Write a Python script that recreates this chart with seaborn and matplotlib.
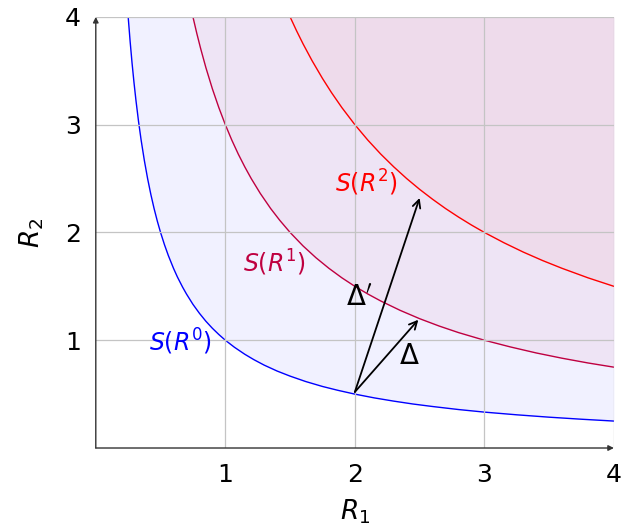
import matplotlib
matplotlib.use("Agg")
import matplotlib.pyplot as plt
import seaborn as sns
import pandas as pd

# Curve points
r0_x = [0.25, 0.265, 0.28, 0.295, 0.31, 0.33, 0.35, 0.375, 0.4, 0.425, 0.45, 0.475, 0.5, 0.53, 0.56, 0.6, 0.63, 0.67, 0.7, 0.75, 0.8, 0.85, 0.9, 0.95, 1.0,
        1.07, 1.15, 1.22, 1.3, 1.4, 1.5, 1.62, 1.75, 1.87, 2.0, 2.15, 2.3, 2.45, 2.6, 2.8, 3.0, 3.25, 3.5, 3.75, 4.0]
r0_y = [4.000, 3.774, 3.571, 3.390, 3.226, 3.030, 2.857, 2.667, 2.500, 2.353, 2.222, 2.105, 2.000, 1.887, 1.786, 1.667, 1.587, 1.493, 1.429, 1.333,
        1.250, 1.176, 1.111, 1.053, 1.000, 0.935, 0.870, 0.820, 0.769, 0.714, 0.667, 0.617, 0.571, 0.535, 0.500, 0.465, 0.435, 0.408, 0.385, 0.357,
        0.333, 0.308, 0.286, 0.267, 0.250]
r1_x = [0.75, 0.78, 0.81, 0.85, 0.9, 0.95, 1.0, 1.05, 1.1, 1.15, 1.2, 1.27, 1.35, 1.42, 1.5, 1.6, 1.7, 1.8, 1.9, 2.0, 2.1, 2.2, 2.35, 2.5, 2.65, 2.8,
        3.0, 3.2, 3.4, 3.6, 3.8, 4.0]
r1_y = [4.000, 3.846, 3.704, 3.529, 3.333, 3.158, 3.000, 2.857, 2.727, 2.609, 2.500, 2.362, 2.222, 2.113, 2.000, 1.875, 1.765, 1.667, 1.579, 1.500,
        1.429, 1.364, 1.277, 1.200, 1.132, 1.071, 1.000, 0.938, 0.882, 0.833, 0.789, 0.750]
r2_x = [1.5, 1.55, 1.6, 1.67, 1.75, 1.82, 1.9, 2.0, 2.1, 2.2, 2.3, 2.4, 2.5, 2.6, 2.7, 2.8, 2.9, 3.0, 3.15, 3.3, 3.45, 3.6, 3.8, 4.0]
r2_y = [4.000, 3.871, 3.750, 3.593, 3.429, 3.297, 3.158, 3.000, 2.857, 2.727, 2.609, 2.500, 2.400, 2.308, 2.222, 2.143, 2.069, 2.000, 1.905,
        1.818, 1.739, 1.667, 1.579, 1.500]

curve_labels = ["$S(R^0)$", "$S(R^1)$", "$S(R^2)$"]
ticks = [1, 2, 3, 4]

start_pt = (2.0, 0.52)
delta_tip = (2.49, 1.19)
delta_p_tip = (2.5, 2.32)

sns.set_theme(style="white")
plt.rcParams["font.family"] = ["DejaVu Sans"]
plt.rcParams["mathtext.fontset"] = "dejavusans"
plt.rcParams["text.color"] = "black"
plt.rcParams["xtick.labelcolor"] = "black"
plt.rcParams["ytick.labelcolor"] = "black"
plt.rcParams["axes.labelcolor"] = "black"

fig = plt.figure(figsize=(6.22, 5.28), dpi=100)
ax = fig.add_axes([0.154, 0.1515, 0.833, 0.8165])

colors = ["#0000ff", "#bf0040", "#ff0000"]
fills = [(0.0, 0.0, 1.0, 0.055), (0.75, 0.0, 0.25, 0.05), (1.0, 0.0, 0.0, 0.04)]
curves = [(r0_x, r0_y), (r1_x, r1_y), (r2_x, r2_y)]

for (xs, ys), c, f in zip(curves, colors, fills):
    ax.fill_between(xs, ys, 4, color=f, linewidth=0)
for (xs, ys), c in zip(curves, colors):
    df = pd.DataFrame({"x": xs, "y": ys})
    sns.lineplot(data=df, x="x", y="y", sort=False, estimator=None, color=c, lw=1.0, ax=ax)

ax.set_xlim(0, 4)
ax.set_ylim(0, 4)
for s in ax.spines.values():
    s.set_visible(False)
ax.set_xticks(ticks)
ax.set_yticks(ticks)
ax.set_xticklabels([str(t) for t in ticks], fontsize=18)
ax.set_yticklabels([str(t) for t in ticks], fontsize=18)
ax.tick_params(axis="both", direction="inout", length=9, width=0.8, color="#b8b8b8", pad=6)
ax.grid(True, color="#c4c4c4", lw=0.9)
ax.set_axisbelow(False)
ax.set_xlabel("$R_1$", fontsize=19, labelpad=8)
ax.set_ylabel("$R_2$", fontsize=19, labelpad=14)

# axis arrows
ax.annotate("", xy=(4.0, 0), xytext=(0, 0), xycoords="data",
            arrowprops=dict(arrowstyle="-|>", color="#333333", lw=1.0, mutation_scale=8,
                            shrinkA=0, shrinkB=0), annotation_clip=False)
ax.annotate("", xy=(0, 4.0), xytext=(0, 0), xycoords="data",
            arrowprops=dict(arrowstyle="-|>", color="#333333", lw=1.0, mutation_scale=8,
                            shrinkA=0, shrinkB=0), annotation_clip=False)

# delta arrows
for tip in (delta_tip, delta_p_tip):
    ax.annotate("", xy=tip, xytext=start_pt,
                arrowprops=dict(arrowstyle="->", color="black", lw=1.3, mutation_scale=14,
                                shrinkA=0, shrinkB=0))

ax.text(2.42, 0.85, r"$\Delta$", fontsize=20, ha="center", va="center")
ax.text(2.03, 1.4, r"$\Delta'$", fontsize=20, ha="center", va="center")

ax.text(0.65, 0.98, curve_labels[0], color=colors[0], fontsize=17, ha="center", va="center")
ax.text(1.38, 1.72, curve_labels[1], color=colors[1], fontsize=17, ha="center", va="center")
ax.text(2.09, 2.46, curve_labels[2], color=colors[2], fontsize=17, ha="center", va="center")

fig.savefig("out.png", dpi=100)
